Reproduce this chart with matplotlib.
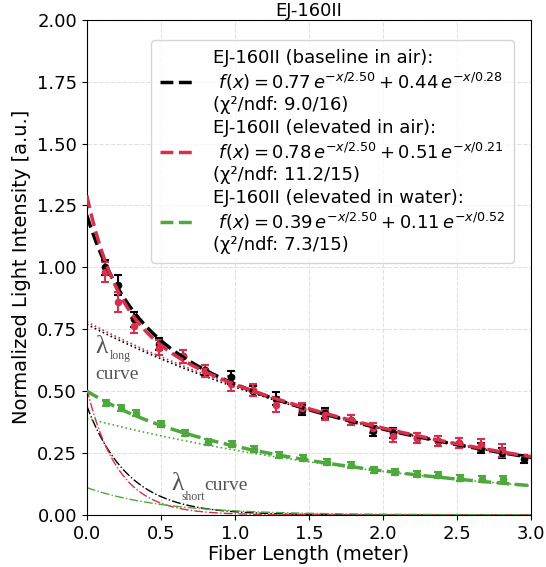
import numpy as np
import matplotlib
matplotlib.use('Agg')
import matplotlib.pyplot as plt

# Measured points (fiber length in m, normalized intensity)
x_pts = [0.12, 0.21, 0.32, 0.49, 0.65, 0.80, 0.97, 1.12, 1.28, 1.45,
         1.61, 1.78, 1.93, 2.07, 2.23, 2.37, 2.51, 2.66, 2.80, 2.95]

base_y = [1.00, 0.93, 0.79, 0.69, 0.64, 0.585, 0.555, 0.50, 0.47, 0.425,
          0.41, 0.385, 0.34, 0.33, 0.31, 0.30, 0.29, 0.27, 0.25, 0.226]
base_err = [0.03, 0.04, 0.03, 0.025, 0.025, 0.02, 0.025, 0.02, 0.025, 0.02,
            0.02, 0.02, 0.02, 0.02, 0.02, 0.02, 0.02, 0.02, 0.02, 0.015]

elev_x = x_pts[:19]
elev_y = [0.98, 0.86, 0.765, 0.675, 0.64, 0.58, 0.53, 0.505, 0.445, 0.43,
          0.405, 0.385, 0.35, 0.32, 0.31, 0.30, 0.29, 0.283, 0.26]
elev_err = [0.04, 0.04, 0.03, 0.03, 0.025, 0.025, 0.03, 0.025, 0.03, 0.02,
            0.02, 0.02, 0.02, 0.025, 0.02, 0.02, 0.02, 0.025, 0.025]

water_x = [0.13, 0.23, 0.33, 0.50, 0.66, 0.82, 0.98, 1.13, 1.30, 1.46,
           1.62, 1.78, 1.94, 2.08, 2.23, 2.37, 2.52, 2.67, 2.81]
water_y = [0.45, 0.43, 0.41, 0.368, 0.33, 0.295, 0.287, 0.266, 0.242, 0.228,
           0.214, 0.202, 0.182, 0.174, 0.166, 0.162, 0.15, 0.145, 0.145]
water_err = [0.012] * 19

# Fit parameters: (A_long, lambda_long, A_short, lambda_short)
fit_base = (0.77, 2.50, 0.44, 0.28)
fit_elev = (0.78, 2.50, 0.51, 0.21)
fit_water = (0.39, 2.50, 0.11, 0.52)

labels = [
    'EJ-160II (baseline in air):\n $f(x) = 0.77\\,e^{-x/2.50} + 0.44\\,e^{-x/0.28}$\n(χ²/ndf: 9.0/16)',
    'EJ-160II (elevated in air):\n $f(x) = 0.78\\,e^{-x/2.50} + 0.51\\,e^{-x/0.21}$\n(χ²/ndf: 11.2/15)',
    'EJ-160II (elevated in water):\n $f(x) = 0.39\\,e^{-x/2.50} + 0.11\\,e^{-x/0.52}$\n(χ²/ndf: 7.3/15)',
]
colors = ['black', '#d8304c', '#4fa83d']

plt.rcParams['mathtext.fontset'] = 'dejavusans'

fig = plt.figure(figsize=(5.46, 5.67), dpi=100)
ax = fig.add_axes([0.159, 0.092, 0.814, 0.873])

xf = np.linspace(0, 3, 300)
series = [(x_pts, base_y, base_err, fit_base),
          (elev_x, elev_y, elev_err, fit_elev),
          (water_x, water_y, water_err, fit_water)]

for (xs, ys, es, p), c, lab in zip(series, colors, labels):
    a1, l1, a2, l2 = p
    ax.errorbar(xs, ys, yerr=es, fmt='o', color=c, markersize=4.5,
                capsize=3, elinewidth=1.5, capthick=1.5, zorder=3)
    ax.plot(xf, a1 * np.exp(-xf / l1) + a2 * np.exp(-xf / l2), '--',
            color=c, lw=2.5, label=lab, zorder=4)
    ax.plot(xf, a1 * np.exp(-xf / l1), ':', color=c, lw=1.2, zorder=2)
    ax.plot(xf, a2 * np.exp(-xf / l2), '-.', color=c, lw=1.0, zorder=2)

# annotations for the two exponential components
note = dict(family='Liberation Serif', color='#555555', va='baseline')
ax.text(0.055, 0.655, 'λ', fontsize=18.5, **note)
ax.text(0.155, 0.63, 'long', fontsize=8.5, **note)
ax.text(0.06, 0.55, 'curve', fontsize=14, **note)
ax.text(0.57, 0.10, 'λ', fontsize=18.5, **note)
ax.text(0.642, 0.061, 'short', fontsize=8.5, **note)
ax.text(0.79, 0.10, 'curve', fontsize=14, **note)

ax.set_xlim(0, 3)
ax.set_ylim(0, 2)
ax.set_xticks(np.arange(0, 3.01, 0.5))
ax.set_yticks(np.arange(0, 2.01, 0.25))
ax.yaxis.set_major_formatter(matplotlib.ticker.FormatStrFormatter('%.2f'))
ax.tick_params(labelsize=13)
ax.grid(True, ls='--', color='#e0e0e0', lw=0.8)
ax.set_xlabel('Fiber Length (meter)', fontsize=14, labelpad=2)
ax.set_ylabel('Normalized Light Intensity [a.u.]', fontsize=14)
ax.set_title('EJ-160II', fontsize=13, pad=3)
ax.legend(loc='upper right', fontsize=13, handlelength=1.9,
          handletextpad=1.0, labelspacing=0.3, borderpad=0.5,
          bbox_to_anchor=(0.981, 0.977))

fig.savefig('out.png')
